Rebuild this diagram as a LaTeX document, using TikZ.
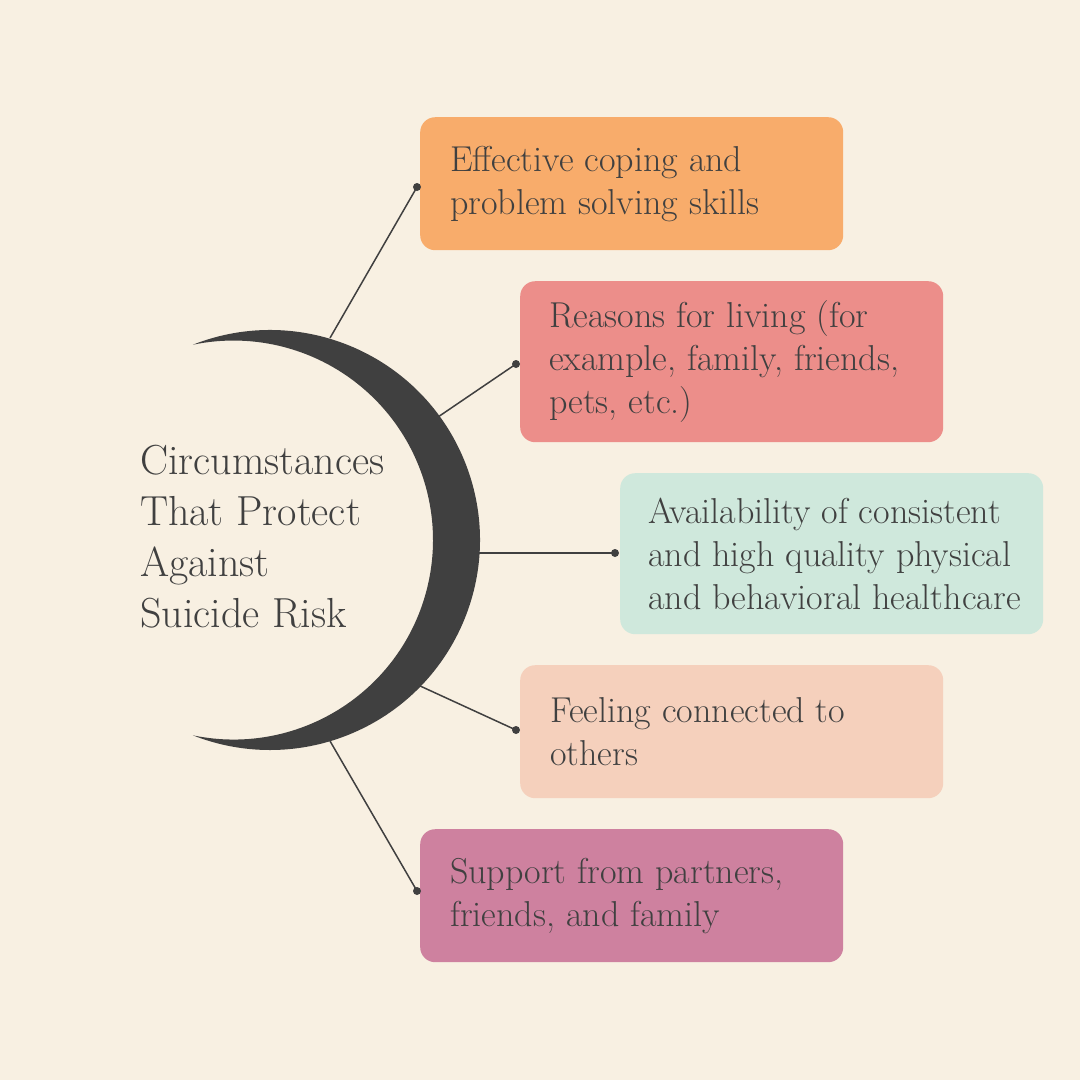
\documentclass[tikz,border=0pt]{standalone}
\usepackage{fontspec}
\setmainfont{Latin Modern Roman}
\definecolor{bg}{HTML}{F8F0E2}
\definecolor{ink}{HTML}{404040}
\definecolor{c1}{HTML}{F8AC6B}
\definecolor{c2}{HTML}{EC8E8A}
\definecolor{c3}{HTML}{CFE8DC}
\definecolor{c4}{HTML}{F5D0BC}
\definecolor{c5}{HTML}{CE819F}
\tikzset{
  card/.style={rounded corners=15pt, anchor=north west, minimum width=423pt, inner sep=0pt},
  cardtext/.style={anchor=west, inner sep=0pt, align=left, text=ink,
    font=\fontsize{36}{43}\selectfont},
  dotnode/.style={circle, fill=ink, inner sep=0pt, minimum size=8pt},
  link/.style={draw=ink, line width=1.5pt}
}
\begin{document}
\begin{tikzpicture}[x=1pt,y=-1pt]
\useasboundingbox (0,0) rectangle (1080,1080);
\fill[bg] (0,0) rectangle (1080,1080);
% crescent
\fill[ink] (192.85,344.7) arc[start angle=111.55, end angle=-111.55, radius=210pt]
  arc[start angle=-101.76, end angle=101.76, radius=199.5pt] -- cycle;
% title
\node[anchor=west, inner sep=0pt, align=left, text=ink, font=\fontsize{42}{51}\selectfont] (title) at (140,537)
 {Circumstances\\That Protect\\Against\\Suicide Risk};
% cards
\node[card, fill=c1, minimum height=133pt] (b1) at (420,117) {};
\node[card, fill=c2, minimum height=161pt] (b2) at (520,281) {};
\node[card, fill=c3, minimum height=161pt] (b3) at (620,473) {};
\node[card, fill=c4, minimum height=133pt] (b4) at (520,665) {};
\node[card, fill=c5, minimum height=133pt] (b5) at (420,829) {};
\node[cardtext] (t1) at ([xshift=30pt]b1.west) {Effective coping and\\problem solving skills};
\node[cardtext] (t2) at ([xshift=29pt]b2.west) {Reasons for living (for\\example, family, friends,\\pets, etc.)};
\node[cardtext] (t3) at ([xshift=28pt]b3.west) {Availability of consistent\\and high quality physical\\and behavioral healthcare};
\node[cardtext] (t4) at ([xshift=30pt]b4.west) {Feeling connected to\\others};
\node[cardtext] (t5) at ([xshift=30pt]b5.west) {Support from partners,\\friends, and family};
% dots
\node[dotnode] (d1) at (417,187) {};
\node[dotnode] (d2) at (516,364) {};
\node[dotnode] (d3) at (615,553) {};
\node[dotnode] (d4) at (516,730) {};
\node[dotnode] (d5) at (417,891) {};
% crescent anchor points
\coordinate (p1) at (330,338);
\coordinate (p2) at (438,417);
\coordinate (p3) at (478,553);
\coordinate (p4) at (418,685);
\coordinate (p5) at (330,741);
\draw[link] (p1) -- (d1.center);
\draw[link] (p2) -- (d2.center);
\draw[link] (p3) -- (d3.center);
\draw[link] (p4) -- (d4.center);
\draw[link] (p5) -- (d5.center);
\end{tikzpicture}
\end{document}
